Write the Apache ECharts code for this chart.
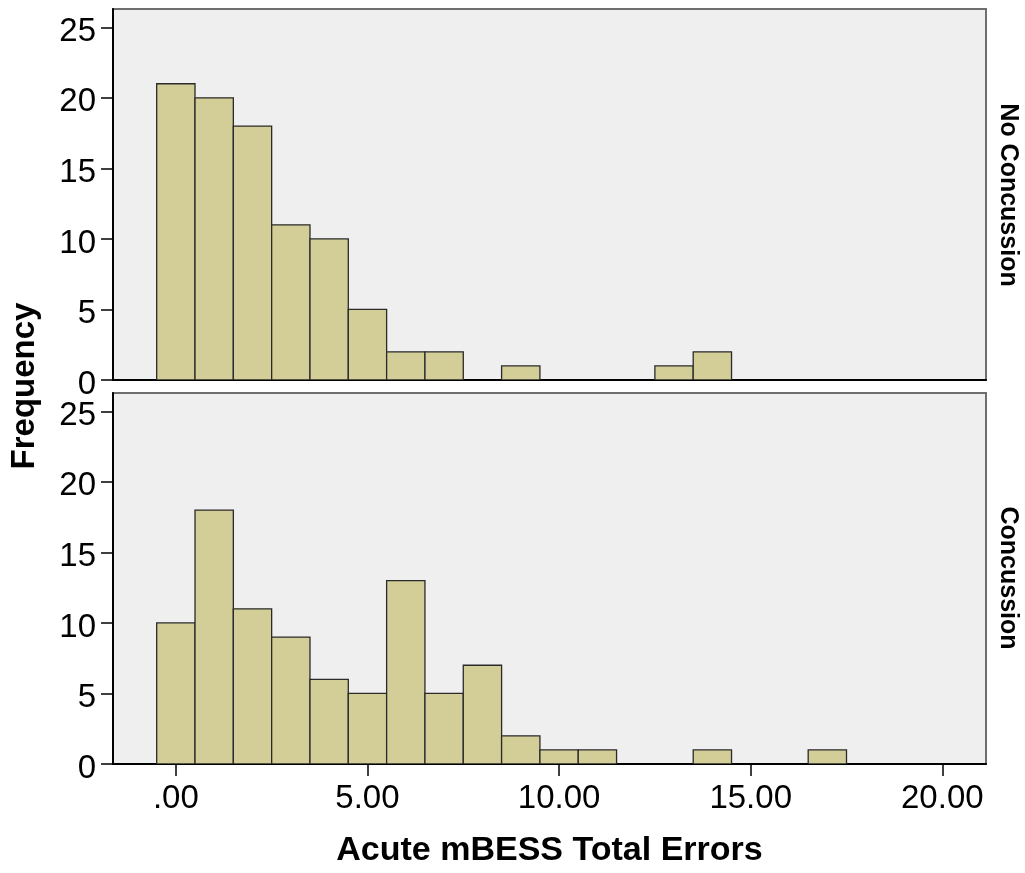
<!DOCTYPE html>
<html>
<head>
<meta charset="utf-8">
<script src="https://cdn.jsdelivr.net/npm/echarts@6/dist/echarts.min.js"></script>
<style>
html,body{margin:0;padding:0;background:#fff;}
#chart{width:1025px;height:873px;}
</style>
</head>
<body>
<div id="chart"></div>
<script>
// Bin centres (Acute mBESS Total Errors), bin width 1
const binCenters = [0,1,2,3,4,5,6,7,8,9,10,11,12,13,14,15,16,17];
const binWidth = 1;
const noConcussion = [21,20,18,11,10,5,2,2,0,1,0,0,0,1,2,0,0,0];
const concussion   = [10,18,11,9,6,5,13,5,7,2,1,1,0,0,1,0,0,1];
const panelLabels = ['No Concussion','Concussion'];
const xTickValues = [0,5,10,15,20];
const xTickLabels = ['.00','5.00','10.00','15.00','20.00'];
const yTickValues = [0,5,10,15,20,25];
const xTitle = 'Acute mBESS Total Errors';
const yTitle = 'Frequency';

const FONT = 'Liberation Sans, Arial, sans-serif';
const chart = echarts.init(document.getElementById('chart'), null, {renderer:'canvas'});

function seriesData(vals){ return binCenters.map((c,i)=>[c, vals[i]]); }

function renderHist(params, api){
  const x = api.value(0), y = api.value(1);
  if (!y) return null;
  const p0 = api.coord([x - binWidth/2, y]);
  const p1 = api.coord([x + binWidth/2, 0]);
  return {
    type:'rect',
    shape:{x:p0[0], y:p0[1], width:p1[0]-p0[0], height:p1[1]-p0[1]},
    style:{fill:'#d3ce97', stroke:'#2a2a2a', lineWidth:1.3}
  };
}

const gridLeft = 113, gridRight = 39, panelH = 371;
const xMin = -1.64, xMax = 21.14, yMax = 26.3;

function yAxis(idx){
  return {
    type:'value', gridIndex:idx, min:0, max:yMax, position:'left',
    axisLine:{show:true, onZero:false, lineStyle:{color:'#000', width:2}},
    axisTick:{show:true, length:12, customValues:yTickValues, lineStyle:{color:'#000', width:1.5}},
    axisLabel:{customValues:yTickValues, fontFamily:FONT, fontSize:33, color:'#000', margin:17,
      verticalAlign:'top', lineHeight:9},
    splitLine:{show:false}
  };
}
function xAxis(idx, showLabels){
  return {
    type:'value', gridIndex:idx, min:xMin, max:xMax, position:'bottom',
    axisLine:{show:true, onZero:false, lineStyle:{color:'#000', width:2}},
    axisTick:{show:showLabels, length:12, customValues:xTickValues, lineStyle:{color:'#000', width:1.5}},
    axisLabel:{show:showLabels, customValues:xTickValues, fontFamily:FONT, fontSize:33, color:'#000', margin:18,
      formatter:(v)=>{ const i = xTickValues.indexOf(v); return i>=0 ? xTickLabels[i] : ''; }},
    splitLine:{show:false},
    name: showLabels ? xTitle : '',
    nameLocation:'middle', nameGap:70,
    nameTextStyle:{fontFamily:FONT, fontSize:34, fontWeight:'bold', color:'#000'}
  };
}

const option = {
  backgroundColor:'#ffffff',
  animation:false,
  grid:[
    {left:gridLeft, right:gridRight, top:9, height:panelH, show:true, backgroundColor:'#efefef', borderColor:'#6e6e6e', borderWidth:2},
    {left:gridLeft, right:gridRight, top:393, height:panelH, show:true, backgroundColor:'#efefef', borderColor:'#6e6e6e', borderWidth:2}
  ],
  xAxis:[xAxis(0,false), xAxis(1,true)],
  yAxis:[yAxis(0), yAxis(1)],
  series:[
    {type:'custom', xAxisIndex:0, yAxisIndex:0, data:seriesData(noConcussion), encode:{x:0,y:1}, renderItem:renderHist, clip:true},
    {type:'custom', xAxisIndex:1, yAxisIndex:1, data:seriesData(concussion), encode:{x:0,y:1}, renderItem:renderHist, clip:true}
  ],
  graphic:[
    {type:'text', x:25, y:386, rotation:Math.PI/2,
      style:{text:yTitle, fontFamily:FONT, fontSize:33, fontWeight:'bold', fill:'#000', align:'center', verticalAlign:'middle'}},
    {type:'text', x:1008, y:195, rotation:-Math.PI/2,
      style:{text:panelLabels[0], fontFamily:FONT, fontSize:25, fontWeight:'bold', fill:'#000', align:'center', verticalAlign:'middle'}},
    {type:'text', x:1008, y:578, rotation:-Math.PI/2,
      style:{text:panelLabels[1], fontFamily:FONT, fontSize:25, fontWeight:'bold', fill:'#000', align:'center', verticalAlign:'middle'}}
  ]
};
chart.setOption(option);
</script>
</body>
</html>
